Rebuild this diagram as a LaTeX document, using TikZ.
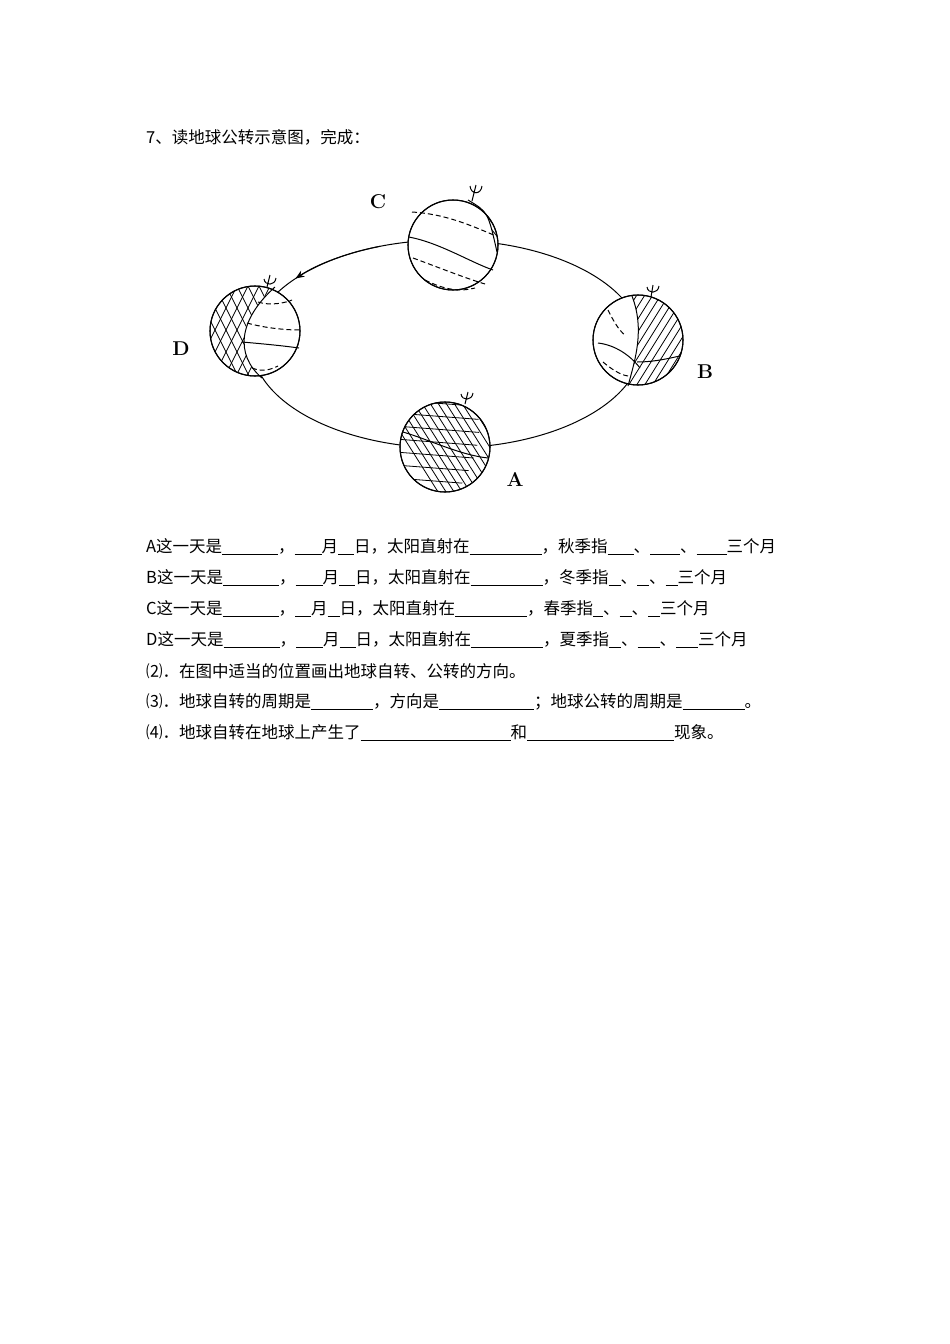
\documentclass[tikz,border=0pt]{standalone}
\usepackage{fontspec}
\newfontfamily\cjk{Noto Sans CJK SC}
\usetikzlibrary{arrows.meta}
\newcommand\bl[1]{\rule[-2pt]{#1pt}{0.5pt}}
\begin{document}
\begin{tikzpicture}[x=1pt,y=-1pt,
  globe/.style={draw,line width=1.1pt,fill=white},
  orbit/.style={line width=1pt},
  lat/.style={line width=1pt},
  dlat/.style={line width=1pt,dash pattern=on 5pt off 3pt},
  hat/.style={line width=0.8pt},
  lbl/.style={font=\bfseries\fontsize{20}{20}\selectfont},
  txt/.style={anchor=west,font=\cjk\fontsize{16.5}{16.5}\selectfont,inner sep=0pt}]
\useasboundingbox (0,0) rectangle (950,1344);
% orbit
\draw[orbit] (447,344) ellipse [x radius=195,y radius=104];
\draw[orbit,-{Stealth[length=9pt,width=7pt]}] (447,344) ++(110:195 and -104) arc [start angle=110,end angle=141,x radius=195,y radius=-104];
% C
\coordinate (C) at (453,245);
\draw[globe] (C) circle (45);
\begin{scope}\clip (C) circle (45);
 \clip (468,198) .. controls (488,212) .. (497,250) -- (520,250) -- (520,190) -- cycle;
 \foreach \i in {0,6,...,90}{\draw[hat] (430+\i,190) -- (470+\i,240);}
\end{scope}
\draw[lat] (468,200) .. controls (488,212) .. (497,252);
\draw[lat] (409,237) .. controls (440,243) and (470,262) .. (493,270);
\draw[dlat] (412,212) .. controls (445,214) and (470,225) .. (496,236);
\draw[dlat] (413,258) .. controls (440,268) and (465,278) .. (485,284);
\draw[dlat] (425,280) .. controls (445,290) and (460,292) .. (475,288);
\draw[line width=1pt] (C) circle (45);
\draw[line width=1pt] (472,201) -- (476,185) (470,186) .. controls (471,195) and (481,195) .. (482,186);
\node[lbl] (lc) at (378,202) {C};
% D
\coordinate (D) at (255,331);
\draw[globe] (D) circle (45);
\begin{scope}\clip (D) circle (45);
 \clip (200,280) -- (275,286) .. controls (238,320) and (235,355) .. (262,378) -- (200,380) -- cycle;
 \foreach \i in {0,11,...,120}{\draw[hat] (190+\i,280) -- (240+\i,380);\draw[hat] (190+\i,380) -- (240+\i,280);}
\end{scope}
\draw[lat] (275,287) .. controls (238,320) and (235,355) .. (262,378);
\draw[lat] (242,342) .. controls (265,344) and (285,346) .. (299,348);
\draw[dlat] (258,302) .. controls (270,306) and (285,303) .. (292,300);
\draw[dlat] (247,323) .. controls (265,328) and (285,330) .. (300,330);
\draw[dlat] (252,368) .. controls (262,372) and (270,370) .. (278,366);
\draw[line width=1pt] (D) circle (45);
\draw[line width=1pt] (267,287) -- (270,275) (264,279) .. controls (265,286) and (275,286) .. (276,278);
\node[lbl] (ld) at (181,349) {D};
% B
\coordinate (B) at (638,340);
\draw[globe] (B) circle (45);
\begin{scope}\clip (B) circle (45);
 \clip (632,296) .. controls (645,330) and (635,360) .. (628,386) -- (690,386) -- (690,290) -- cycle;
 \foreach \i in {0,8,...,140}{\draw[hat] (580+\i,386) -- (640+\i,290);}
\end{scope}
\draw[lat] (632,296) .. controls (645,330) and (635,360) .. (628,386);
\draw[lat] (598,343) .. controls (615,345) and (630,355) .. (640,368);
\draw[lat] (637,362) .. controls (655,362) and (670,358) .. (680,356);
\draw[dlat] (608,310) .. controls (612,318) and (618,330) .. (626,336);
\draw[dlat] (603,362) .. controls (610,368) and (620,375) .. (628,376);
\draw[line width=1pt] (B) circle (45);
\draw[line width=1pt] (651,297) -- (653,285) (647,287) .. controls (648,294) and (658,294) .. (659,286);
\node[lbl] (lb) at (705,372) {B};
% A
\coordinate (A) at (445,447);
\draw[globe] (A) circle (45);
\begin{scope}\clip (A) circle (45);
 \clip (400,400) -- (470,403) .. controls (488,420) and (478,460) .. (455,495) -- (390,495) -- cycle;
 \foreach \i in {0,8,...,140}{\draw[hat] (380+\i,400) -- (440+\i,495);}
 \foreach \i in {0,13,...,100}{\draw[hat] (395,400+\i) -- (500,408+\i);}
\end{scope}
\begin{scope}\clip (A) circle (45);
 \clip (470,403) .. controls (488,420) and (478,460) .. (455,495) -- (500,495) -- (500,400) -- cycle;
 \foreach \i in {0,8,...,140}{\draw[hat] (380+\i,400) -- (440+\i,495);}
\end{scope}
\draw[lat] (403,432) .. controls (430,440) and (460,455) .. (488,458);
\draw[line width=1pt] (A) circle (45);
\draw[line width=1pt] (465,404) -- (468,392) (461,394) .. controls (462,401) and (472,401) .. (473,393);
\node[lbl] (la) at (515,479) {A};
% text
\node[txt] (t0) at (146,137) {7、读地球公转示意图，完成：};
\node[txt] (t1) at (146,547) {A这一天是\bl{56}，\bl{27}月\bl{16}日，太阳直射在\bl{72}，秋季指\bl{26}、\bl{30}、\bl{30}三个月};
\node[txt] (t2) at (146,578) {B这一天是\bl{56}，\bl{27}月\bl{16}日，太阳直射在\bl{72}，冬季指\bl{12}、\bl{12}、\bl{12}三个月};
\node[txt] (t3) at (146,609) {C这一天是\bl{56}，\bl{16}月\bl{12}日，太阳直射在\bl{72}，春季指\bl{10}、\bl{12}、\bl{12}三个月};
\node[txt] (t4) at (146,640) {D这一天是\bl{56}，\bl{27}月\bl{16}日，太阳直射在\bl{72}，夏季指\bl{12}、\bl{22}、\bl{22}三个月};
\node[txt] (t5) at (146,671) {⑵．在图中适当的位置画出地球自转、公转的方向。};
\node[txt] (t6) at (146,702) {⑶．地球自转的周期是\bl{62}，方向是\bl{95}；地球公转的周期是\bl{62}。};
\node[txt] (t7) at (146,733) {⑷．地球自转在地球上产生了\bl{150}和\bl{147}现象。};
\end{tikzpicture}
\end{document}
